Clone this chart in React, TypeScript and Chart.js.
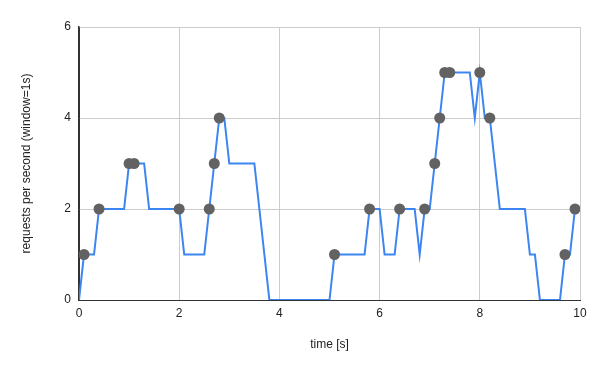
import React, { useEffect, useRef } from "react";
import { Chart, registerables } from "chart.js";

Chart.register(...registerables);

// sampled windowed rate (every 0.1 s)
const lineTimes: number[] = [
  0.0, 0.1, 0.2, 0.3, 0.4, 0.5, 0.6, 0.7, 0.8, 0.9,
  1.0, 1.1, 1.2, 1.3, 1.4, 1.5, 1.6, 1.7, 1.8, 1.9,
  2.0, 2.1, 2.2, 2.3, 2.4, 2.5, 2.6, 2.7, 2.8, 2.9,
  3.0, 3.1, 3.2, 3.3, 3.4, 3.5, 3.6, 3.7, 3.8, 3.9,
  4.0, 4.1, 4.2, 4.3, 4.4, 4.5, 4.6, 4.7, 4.8, 4.9,
  5.0, 5.1, 5.2, 5.3, 5.4, 5.5, 5.6, 5.7, 5.8, 5.9,
  6.0, 6.1, 6.2, 6.3, 6.4, 6.5, 6.6, 6.7, 6.8, 6.9,
  7.0, 7.1, 7.2, 7.3, 7.4, 7.5, 7.6, 7.7, 7.8, 7.9,
  8.0, 8.1, 8.2, 8.3, 8.4, 8.5, 8.6, 8.7, 8.8, 8.9,
  9.0, 9.1, 9.2, 9.3, 9.4, 9.5, 9.6, 9.7, 9.8, 9.9,
];
const lineValues: number[] = [
  0, 1, 1, 1, 2, 2, 2, 2, 2, 2,
  3, 3, 3, 3, 2, 2, 2, 2, 2, 2,
  2, 1, 1, 1, 1, 1, 2, 3, 4, 4,
  3, 3, 3, 3, 3, 3, 2, 1, 0, 0,
  0, 0, 0, 0, 0, 0, 0, 0, 0, 0,
  0, 1, 1, 1, 1, 1, 1, 1, 2, 2,
  2, 1, 1, 1, 2, 2, 2, 2, 1, 2,
  2, 3, 4, 5, 5, 5, 5, 5, 5, 4,
  5, 4, 4, 3, 2, 2, 2, 2, 2, 2,
  1, 1, 0, 0, 0, 0, 0, 1, 1, 2,
];

// request events
const eventTimes: number[] = [0.1, 0.4, 1.0, 1.1, 2.0, 2.6, 2.7, 2.8, 5.1, 5.8, 6.4, 6.9, 7.1, 7.2, 7.3, 7.4, 8.0, 8.2, 9.7, 9.9];
const eventValues: number[] = [1, 2, 3, 3, 2, 2, 3, 4, 1, 2, 2, 2, 3, 4, 5, 5, 5, 4, 1, 2];

const xTicks: number[] = [0, 2, 4, 6, 8, 10];
const yTicks: number[] = [0, 2, 4, 6];

const FONT = "'Liberation Sans', Arial, sans-serif";

export default function App() {
  const ref = useRef<HTMLCanvasElement | null>(null);
  useEffect(() => {
    if (!ref.current) return;
    const chart = new Chart(ref.current, {
      type: "line",
      data: {
        datasets: [
          {
            type: "scatter",
            label: "events",
            data: eventTimes.map((x, i) => ({ x, y: eventValues[i] })),
            backgroundColor: "#626262",
            borderColor: "#626262",
            pointRadius: 5.5,
            pointBorderWidth: 0,
            order: 0,
          } as any,
          {
            type: "line",
            label: "rate",
            data: lineTimes.map((x, i) => ({ x, y: lineValues[i] })),
            borderColor: "#3d85f0",
            borderWidth: 2,
            pointRadius: 0,
            tension: 0,
            fill: false,
            borderJoinStyle: "miter",
            order: 1,
          } as any,
        ],
      },
      options: {
        animation: false,
        responsive: false,
        maintainAspectRatio: false,
        layout: { padding: { top: 27, right: 20, left: 0, bottom: 0 } },
        plugins: { legend: { display: false }, tooltip: { enabled: false } },
        scales: {
          x: {
            type: "linear",
            min: 0,
            max: 10,
            afterBuildTicks: (s: any) => {
              s.ticks = xTicks.map((v) => ({ value: v }));
            },
            afterFit: (s: any) => {
              s.height = 71;
            },
            grid: {
              color: (c: any) => (c.tick && c.tick.value === 0 ? "#333" : "#cccccc"),
              drawTicks: false,
              lineWidth: 1,
            },
            border: { display: true, color: "#333", width: 1 },
            ticks: { color: "#222", font: { family: FONT, size: 12 }, padding: 6, maxRotation: 0 },
            title: {
              display: true,
              text: "time [s]",
              color: "#222",
              font: { family: FONT, size: 12 },
              padding: { top: 0, bottom: 19 },
            },
          },
          y: {
            type: "linear",
            min: 0,
            max: 6,
            afterBuildTicks: (s: any) => {
              s.ticks = yTicks.map((v) => ({ value: v }));
            },
            afterFit: (s: any) => {
              s.width = 79;
            },
            grid: {
              color: (c: any) => (c.tick && c.tick.value === 0 ? "#333" : "#cccccc"),
              drawTicks: false,
              lineWidth: 1,
            },
            border: { display: true, color: "#333", width: 1.5 },
            ticks: { color: "#222", font: { family: FONT, size: 12 }, padding: 8 },
            title: {
              display: true,
              text: "requests per second (window=1s)",
              color: "#222",
              font: { family: FONT, size: 12 },
              padding: { top: 19, bottom: 0 },
            },
          },
        },
      },
    });
    return () => chart.destroy();
  }, []);
  return (
    <div style={{ position: "fixed", left: 0, top: 0, width: 600, height: 371, background: "#fff" }}>
      <canvas ref={ref} width={600} height={371} style={{ width: 600, height: 371 }} />
    </div>
  );
}
